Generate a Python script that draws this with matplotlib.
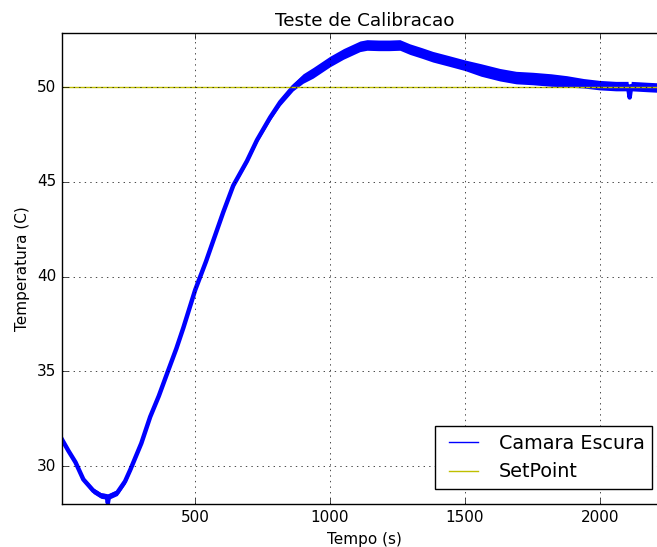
import matplotlib
matplotlib.use('Agg')
import matplotlib.pyplot as plt

plt.style.use('classic')
plt.rcParams['font.size'] = 11
plt.rcParams['font.family'] = 'DejaVu Sans'

# leitura do sensor (centro da faixa) e meia largura do ruido
tempo = [6, 30, 56, 85, 122, 150, 172, 176, 180, 211, 240, 259, 300, 333, 365, 396, 430, 456,
         500, 540, 567, 604, 641, 692, 729, 778, 815, 863, 900, 937, 1000, 1050, 1111, 1137,
         1180, 1220, 1259, 1296, 1340, 1381, 1440, 1500, 1560, 1630, 1690, 1752, 1820, 1878,
         1940, 2000, 2060, 2105, 2111, 2117, 2180, 2250]
temperatura = [31.4, 30.8, 30.2, 29.3, 28.7, 28.45, 28.4, 28.05, 28.4, 28.6, 29.2, 29.8, 31.2,
               32.6, 33.7, 34.9, 36.2, 37.3, 39.3, 40.8, 41.9, 43.4, 44.8, 46.1, 47.2, 48.4,
               49.2, 50.0, 50.45, 50.75, 51.35, 51.75, 52.15, 52.22, 52.2, 52.2, 52.22, 52.0,
               51.8, 51.6, 51.38, 51.15, 50.9, 50.65, 50.5, 50.45, 50.37, 50.3, 50.2, 50.1,
               50.05, 50.05, 49.45, 50.05, 50.0, 49.95]
ruido = [0.12, 0.12, 0.12, 0.12, 0.15, 0.15, 0.15, 0.0, 0.15, 0.15, 0.15, 0.12, 0.1, 0.1, 0.1,
         0.1, 0.1, 0.1, 0.1, 0.1, 0.1, 0.1, 0.1, 0.12, 0.12, 0.15, 0.18, 0.2, 0.25, 0.28, 0.28,
         0.28, 0.28, 0.28, 0.28, 0.28, 0.28, 0.28, 0.28, 0.28, 0.28, 0.28, 0.33, 0.33, 0.33,
         0.33, 0.33, 0.3, 0.25, 0.25, 0.25, 0.25, 0.0, 0.25, 0.25, 0.25]
setpoint = 50

fig = plt.figure(figsize=(6.57, 5.47), dpi=100, facecolor='white')
ax = fig.add_axes([0.0944, 0.0786, 0.921, 0.861])

baixa = [t - r for t, r in zip(temperatura, ruido)]
alta = [t + r for t, r in zip(temperatura, ruido)]
ax.fill_between(tempo, baixa, alta, color='b', lw=0)
ax.plot(tempo, temperatura, 'b', lw=3.2, label='Camara Escura')
ax.plot([tempo[0], tempo[-1]], [setpoint, setpoint], 'y', lw=1, label='SetPoint')

ax.set_xlim(6, 2250)
ax.set_ylim(28.0, 52.85)
ax.set_xticks([500, 1000, 1500, 2000])
ax.set_yticks([30, 35, 40, 45, 50])
ax.grid(True)
ax.set_title('Teste de Calibracao')
ax.set_xlabel('Tempo (s)')
ax.set_ylabel('Temperatura (C)')

leg = ax.legend(loc='lower right', handlelength=2.1, numpoints=2, fontsize=13.8,
                borderaxespad=0.78)
for ln in leg.get_lines():
    ln.set_linewidth(1)

fig.savefig('out.png', dpi=100, facecolor='white')
